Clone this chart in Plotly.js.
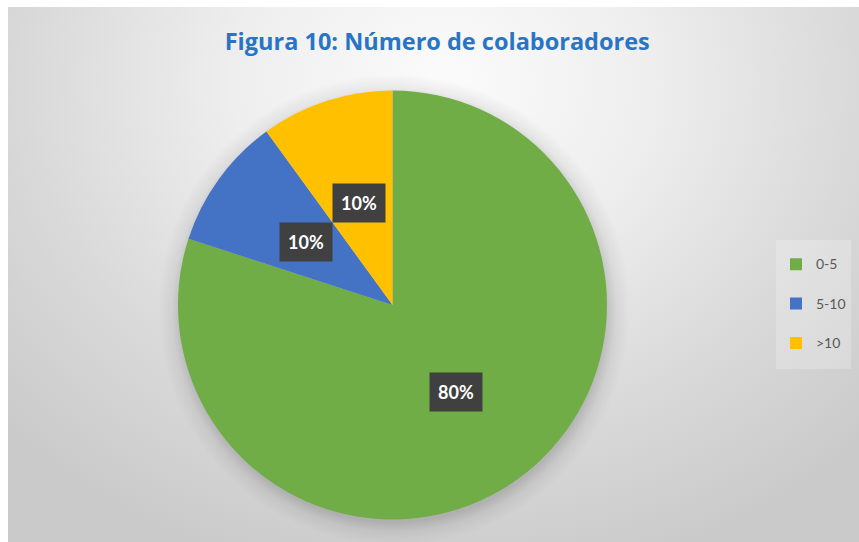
<!DOCTYPE html>
<html><head><meta charset="utf-8">
<script src="https://cdn.plot.ly/plotly-3.0.1.min.js"></script>
<style>
html,body{margin:0;padding:0;background:#fff;overflow:hidden;}
#bg{position:absolute;left:8px;top:7px;width:851px;height:535px;
background:
 radial-gradient(circle 236px at 386px 303px, rgba(0,0,0,0.16) 0px, rgba(0,0,0,0.16) 212px, rgba(0,0,0,0.06) 222px, rgba(0,0,0,0) 236px),
 radial-gradient(ellipse 70% 95% at 51% 14%, #fbfbfb 0%, #eeeeee 35%, #d9d9d9 70%, #cacaca 100%);}
#chart{position:absolute;left:0;top:0;width:859px;height:542px;}
</style></head><body>
<div id="bg"></div><div id="chart"></div>
<script>
const categories = ['0-5', '5-10', '>10'];
const values = [80, 10, 10];
const percentLabels = ['80%', '10%', '10%'];
const colors = ['#70AD47', '#4472C4', '#FFC000'];

const W = 859, H = 542;
const domX = [0.2072, 0.7066];
const domY = [0.0415, 0.833];

// legend labels built from categories (small text, taller line box for spacing)
const legendLabels = categories.map(c =>
  '<span style="font-size:14px;baseline-shift:6px">' + c.replace('>', '&gt;') + '</span>');

const trace = {
  type: 'pie',
  labels: legendLabels,
  values: values,
  marker: {colors: colors, line: {width: 0}},
  sort: false,
  direction: 'clockwise',
  rotation: 0,
  textinfo: 'none',
  hoverinfo: 'skip',
  domain: {x: domX, y: domY}
};

// label boxes placed at half radius along each slice's mid-angle
const total = values.reduce((a, b) => a + b, 0);
const cx = (domX[0] + domX[1]) / 2 * W;
const cy = (1 - (domY[0] + domY[1]) / 2) * H;
const r = Math.min((domX[1] - domX[0]) * W, (domY[1] - domY[0]) * H) / 2;
let cum = 0;
const annotations = values.map((v, i) => {
  const mid = (cum + v / 2) / total;
  cum += v;
  const th = mid * 2 * Math.PI;
  const px = cx + 0.5 * r * Math.sin(th);
  const py = cy - 0.5 * r * Math.cos(th);
  return {
    x: px / W, y: 1 - py / H, xref: 'paper', yref: 'paper',
    xanchor: 'center', yanchor: 'middle',
    text: percentLabels[i], showarrow: false,
    bgcolor: '#404040', borderpad: 8,
    font: {family: 'Lato, sans-serif', size: 18, color: '#ffffff', weight: 'bold'}
  };
});

const layout = {
  width: W, height: H,
  margin: {l: 0, r: 0, t: 0, b: 0},
  paper_bgcolor: 'rgba(0,0,0,0)',
  plot_bgcolor: 'rgba(0,0,0,0)',
  title: {
    text: 'Figura 10: Número de colaboradores',
    x: 0.509, xanchor: 'center', y: 0.9225, yanchor: 'middle',
    font: {family: '"Open Sans", sans-serif', size: 23.5, color: '#2874C5', weight: 'bold'}
  },
  showlegend: true,
  legend: {
    x: 776 / W, xanchor: 'left', y: 1 - 304 / H, yanchor: 'middle',
    bgcolor: 'rgba(255,255,255,0.22)',
    font: {family: 'Lato, sans-serif', size: 28, color: '#595959'},
    traceorder: 'normal'
  },
  annotations: annotations
};

Plotly.newPlot('chart', [trace], layout, {displayModeBar: false, staticPlot: true});
</script>
</body></html>
